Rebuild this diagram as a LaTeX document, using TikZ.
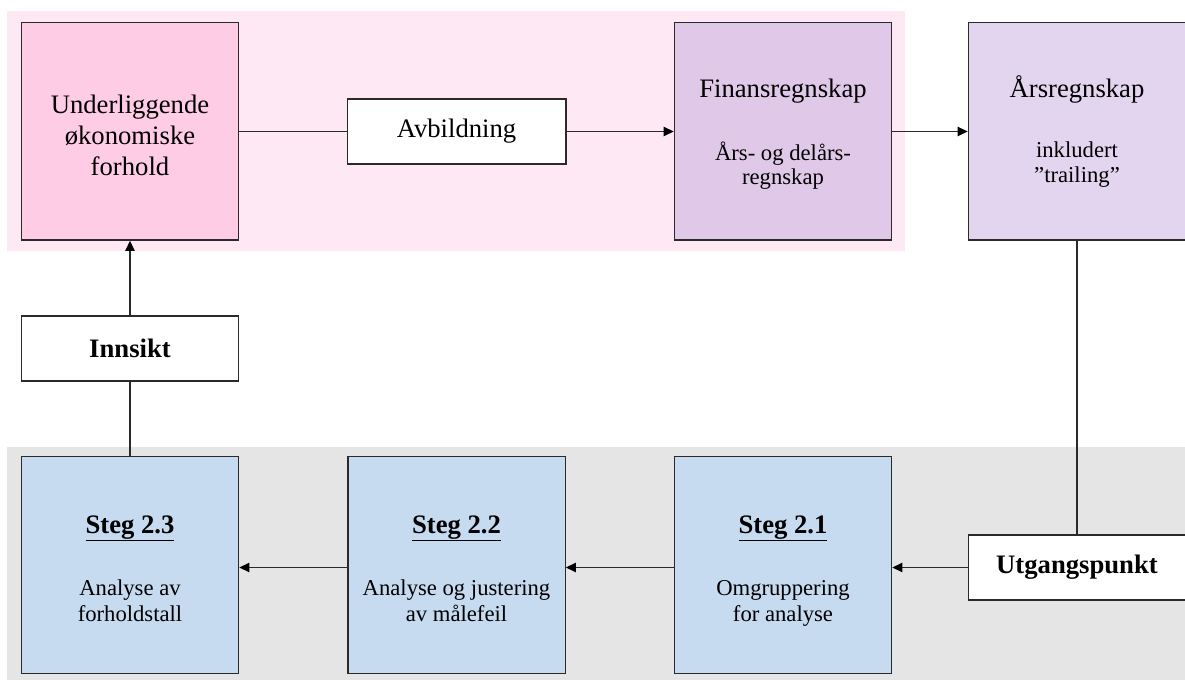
\documentclass[tikz,border=0pt]{standalone}
\usepackage{fontspec}
\setmainfont{Liberation Serif}
\usetikzlibrary{arrows.meta}
\definecolor{pinkbg}{HTML}{FDE8F3}
\definecolor{pinkbox}{HTML}{FFCCE6}
\definecolor{finbox}{HTML}{E0C8E8}
\definecolor{arsbox}{HTML}{E3D5EF}
\definecolor{stegbox}{HTML}{C6DAF0}
\definecolor{graybg}{HTML}{E5E5E5}
\definecolor{edge}{HTML}{2A2A2A}
\begin{document}
\begin{tikzpicture}[x=0.75pt,y=-0.75pt,
  box/.style={draw=edge, line width=1pt, inner sep=0pt,
              minimum width=163pt, minimum height=163pt},
  tag/.style={draw=edge, line width=1pt, inner sep=0pt, align=center, fill=white,
              minimum width=163pt, minimum height=48.75pt, font=\fontsize{20}{23.25}\selectfont},
  head/.style={anchor=base, inner sep=0pt, font=\fontsize{20}{23.25}\selectfont},
  sub/.style={anchor=base, inner sep=0pt, font=\fontsize{17}{19}\selectfont},
  link/.style={draw=edge, line width=1pt},
  arr/.style={link, -{Triangle[length=7.5pt,width=7pt,fill=black,color=black]}}]
\useasboundingbox (0,0) rectangle (1185,680);
% backgrounds
\fill[white] (0,0) rectangle (1185,680);
\fill[pinkbg] (7,11) rectangle (905,251);
\fill[graybg] (7,447) rectangle (1185,680);
% top row boxes
\node[box, fill=pinkbox] (U) at (130,131.5) {};
\node[tag, minimum width=164pt] (Avb) at (456.5,131.5) {Avbildning};
\node[box, fill=finbox] (Fin) at (783,131.5) {};
\node[box, fill=arsbox] (Ars) at (1077,131.5) {};
% top row texts
\node[align=center, inner sep=0pt, font=\fontsize{20}{23.5}\selectfont] (Ut) at (130,135.5) {Underliggende\\økonomiske\\forhold};
\node[head] (Fint) at (783,97.5) {Finansregnskap};
\node[sub] (Fina) at (783,161) {Års- og delårs-};
\node[sub] (Finb) at (783,185) {regnskap};
\node[head] (Arst) at (1077,97.5) {Årsregnskap};
\node[sub] (Arsa) at (1077,158) {inkludert};
\node[sub] (Arsb) at (1077,183) {”trailing”};
% insight
\node[tag] (Inn) at (130,348.5) {\bfseries Innsikt};
% bottom row boxes
\node[box, fill=stegbox] (S23) at (130,565) {};
\node[box, fill=stegbox] (S22) at (456.5,565) {};
\node[box, fill=stegbox] (S21) at (783,565) {};
\node[tag] (Utg) at (1077,567.5) {\bfseries Utgangspunkt};
% bottom row texts
\node[head] (S23t) at (130,533) {\bfseries\underline{Steg 2.3}};
\node[sub] (S23a) at (130,595) {Analyse av};
\node[sub] (S23b) at (130,621) {forholdstall};
\node[head] (S22t) at (456.5,533) {\bfseries\underline{Steg 2.2}};
\node[sub] (S22a) at (456.5,595) {Analyse og justering};
\node[sub] (S22b) at (456.5,621) {av målefeil};
\node[head] (S21t) at (783,533) {\bfseries\underline{Steg 2.1}};
\node[sub] (S21a) at (783,595) {Omgruppering};
\node[sub] (S21b) at (783,621) {for analyse};
% connectors
\draw[link] (U) -- (Avb);
\draw[arr] (Avb) -- (Fin);
\draw[arr] (Fin) -- (Ars);
\draw[link] (Ars) -- (Utg);
\draw[arr] (Utg.west) -- (Utg.west -| S21.east);
\draw[arr] (S21.west |- Utg.west) -- (S22.east |- Utg.west);
\draw[arr] (S22.west |- Utg.west) -- (S23.east |- Utg.west);
\draw[link] (S23) -- (Inn);
\draw[arr] (Inn) -- (U);
\end{tikzpicture}
\end{document}
